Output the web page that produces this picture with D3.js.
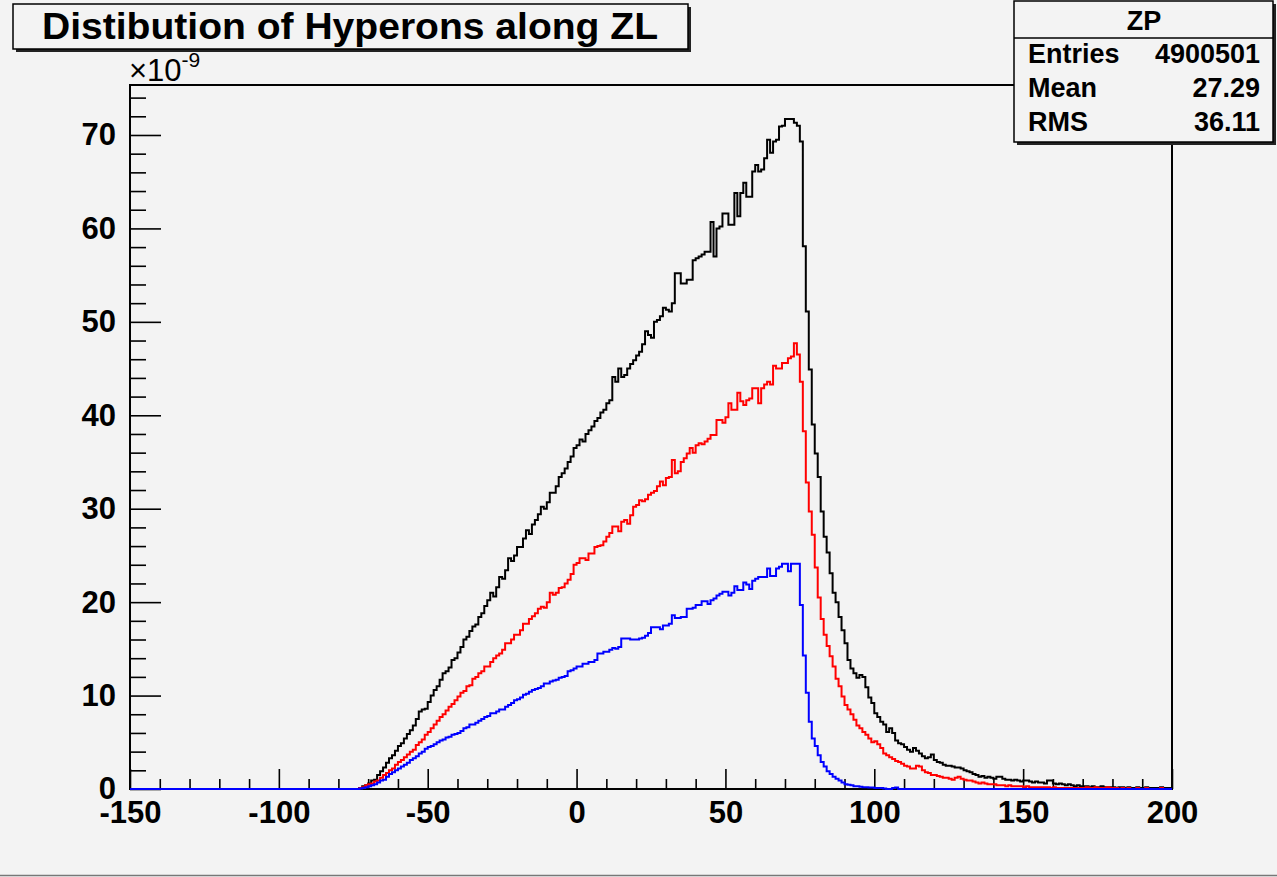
<!DOCTYPE html>
<html>
<head>
<meta charset="utf-8">
<script src="https://cdn.jsdelivr.net/npm/d3@7"></script>
<style>
  html, body { margin: 0; padding: 0; background: #f3f3f3; }
  svg { display: block; }
  text { font-family: "Liberation Sans", Arial, Helvetica, sans-serif; }
</style>
</head>
<body>
<svg width="1277" height="877"></svg>
<script>
// histogram bins are 1 unit wide, first filled bin starts at firstBin
var firstBin = -73;

// black: all hyperons
var allHyp = [
  0.1, 0.3, 0.4, 0.6, 0.9, 1.0, 1.5, 1.9, 2.3, 2.8,
  3.3, 3.6, 4.1, 4.6, 4.9, 5.4, 5.9, 6.3, 6.8, 7.5,
  8.3, 8.5, 8.6, 9.3, 10.0, 10.6, 11.0, 11.7, 12.4, 12.6,
  13.0, 13.8, 14.0, 14.6, 15.2, 16.0, 16.3, 16.9, 17.4, 17.6,
  18.4, 18.8, 19.6, 20.2, 21.0, 20.6, 21.6, 22.7, 22.5, 23.4,
  24.7, 24.4, 25.0, 25.9, 25.9, 26.8, 27.7, 27.3, 28.3, 28.8,
  29.4, 30.2, 30.0, 30.7, 31.7, 31.7, 32.4, 33.4, 33.8, 34.3,
  35.0, 35.6, 36.5, 36.8, 37.4, 37.2, 38.0, 38.4, 38.8, 39.4,
  39.7, 40.3, 40.6, 41.3, 41.6, 44.1, 43.6, 45.0, 44.1, 44.3,
  45.0, 45.5, 45.9, 46.4, 46.8, 47.6, 49.0, 48.6, 48.3, 50.0,
  50.2, 50.6, 51.5, 51.3, 51.1, 52.0, 55.2, 55.2, 54.1, 54.1,
  54.5, 54.5, 56.6, 56.8, 57.0, 57.2, 57.5, 57.5, 60.7, 57.0,
  60.0, 60.2, 61.6, 61.6, 60.4, 60.4, 63.8, 61.3, 63.8, 64.9,
  63.4, 63.4, 66.1, 66.8, 66.1, 66.3, 67.5, 69.5, 68.1, 69.3,
  69.5, 70.9, 71.0, 71.7, 71.7, 71.7, 71.3, 71.0, 69.3, 58.1,
  51.1, 44.9, 39.0, 35.9, 33.4, 29.7, 27.0, 25.3, 23.1, 21.0,
  20.0, 18.4, 17.0, 15.6, 13.8, 12.9, 12.4, 11.9, 12.2, 12.0,
  10.9, 9.8, 9.2, 8.1, 7.7, 7.2, 6.9, 6.1, 6.5, 6.0,
  5.2, 4.9, 4.8, 4.5, 4.2, 4.0, 4.4, 4.1, 3.8, 3.5,
  3.3, 3.4, 3.7, 3.1, 2.9, 2.8, 2.6, 2.5, 2.5, 2.4,
  2.3, 2.3, 2.2, 2.0, 1.9, 1.8, 1.6, 1.5, 1.3, 1.4,
  1.2, 1.3, 1.2, 1.1, 1.3, 1.3, 1.1, 1.0, 1.0, 0.9,
  1.0, 0.9, 0.8, 0.9, 0.9, 0.8, 0.7, 0.8, 0.7, 0.7,
  0.6, 0.9, 0.9, 0.6, 0.5, 0.6, 0.5, 0.4, 0.5, 0.4,
  0.3, 0.4, 0.3, 0.3, 0.3, 0.2, 0.3, 0.2, 0.2, 0.3,
  0.2, 0.2, 0.2, 0.2, 0.1, 0.2, 0.2, 0.1, 0.2, 0.1,
  0.1, 0.2, 0.1, 0.1, 0.2, 0.1, 0.1, 0.1, 0.1, 0.2,
  0.1, 0.1, 0.1
];

// red
var redHyp = [
  0.1, 0.2, 0.4, 0.5, 0.6, 0.8, 0.9, 1.2, 1.5, 1.7,
  2.0, 2.2, 2.6, 2.9, 3.1, 3.4, 3.7, 4.0, 4.2, 4.7,
  5.0, 5.3, 5.8, 6.1, 6.5, 6.9, 7.3, 7.7, 8.0, 8.4,
  8.8, 9.1, 9.5, 9.9, 10.3, 10.5, 11.0, 11.1, 11.8, 12.0,
  12.4, 12.6, 13.1, 13.1, 13.6, 14.0, 14.3, 14.5, 14.9, 15.6,
  15.6, 16.0, 16.5, 16.5, 17.0, 17.7, 17.7, 18.2, 18.5, 18.8,
  19.3, 19.5, 19.4, 20.0, 21.0, 20.8, 21.0, 21.5, 21.6, 22.0,
  22.4, 23.0, 24.0, 24.2, 24.7, 24.7, 24.5, 25.2, 25.2, 25.9,
  26.0, 26.1, 26.5, 27.0, 27.4, 28.1, 28.1, 27.6, 28.6, 28.8,
  28.4, 29.3, 30.2, 30.4, 30.9, 30.8, 31.0, 31.5, 31.7, 31.9,
  32.4, 32.9, 32.5, 33.3, 33.4, 35.2, 33.8, 34.0, 35.0, 35.4,
  35.9, 36.5, 36.0, 36.8, 37.0, 36.9, 37.2, 37.5, 37.9, 37.9,
  39.5, 39.5, 39.2, 39.8, 41.3, 40.6, 40.6, 42.4, 41.5, 41.1,
  41.6, 41.8, 42.9, 42.9, 41.3, 42.9, 43.3, 43.6, 43.3, 45.3,
  45.0, 45.0, 45.6, 45.6, 46.1, 46.3, 47.7, 46.5, 43.6, 38.3,
  32.8, 29.7, 27.2, 23.7, 20.5, 18.2, 16.5, 15.3, 14.2, 13.1,
  11.8, 11.0, 9.9, 9.0, 8.5, 8.0, 7.4, 6.8, 6.5, 6.1,
  5.8, 5.4, 5.0, 5.1, 4.8, 4.4, 3.8, 3.6, 3.4, 3.2,
  3.0, 2.9, 2.7, 2.5, 2.4, 2.2, 2.2, 2.5, 2.4, 2.0,
  1.8, 1.7, 1.5, 1.5, 1.4, 1.3, 1.2, 1.2, 1.1, 1.0,
  1.2, 1.3, 1.1, 1.0, 0.9, 0.9, 0.8, 0.7, 0.6, 0.7,
  0.6, 0.5, 0.5, 0.5, 0.4, 0.4, 0.4, 0.3, 0.4, 0.3,
  0.3, 0.3, 0.3, 0.2, 0.3, 0.2, 0.2, 0.2, 0.2, 0.2,
  0.2, 0.2, 0.1, 0.2, 0.1, 0.1, 0.1, 0.1, 0.1, 0.1,
  0.1, 0.1, 0.1, 0.1, 0.2, 0.1, 0.1, 0.2, 0.1, 0.1,
  0.1, 0.2, 0.1, 0.1, 0.1, 0.0, 0.1, 0.0, 0.1, 0.0,
  0.0, 0.1, 0.0, 0.0, 0.1, 0.0, 0.0, 0.0, 0.0, 0.1,
  0.0, 0.0, 0.0
];

// blue
var blueHyp = [
  0.05, 0.1, 0.2, 0.3, 0.4, 0.5, 0.7, 0.9, 1.0, 1.3,
  1.6, 1.8, 2.0, 2.2, 2.4, 2.6, 2.8, 3.1, 3.3, 3.5,
  3.8, 4.0, 4.3, 4.5, 4.6, 4.8, 5.0, 5.2, 5.3, 5.5,
  5.6, 5.8, 5.9, 6.0, 6.2, 6.5, 6.6, 6.9, 6.9, 7.1,
  7.3, 7.5, 7.7, 7.8, 8.1, 8.1, 8.3, 8.5, 8.5, 8.8,
  9.0, 9.2, 9.5, 9.6, 9.8, 10.1, 10.2, 10.4, 10.6, 10.7,
  10.8, 11.0, 11.3, 11.3, 11.5, 11.6, 11.7, 11.9, 12.0, 12.1,
  12.6, 12.7, 12.9, 13.1, 13.1, 13.4, 13.4, 13.6, 13.6, 13.8,
  14.5, 14.5, 14.7, 14.7, 14.9, 15.1, 15.0, 15.2, 16.1, 16.1,
  16.1, 16.0, 16.0, 16.0, 16.1, 16.2, 16.4, 16.7, 17.3, 17.3,
  17.3, 17.1, 17.5, 17.5, 17.7, 18.6, 18.3, 18.3, 18.4, 18.4,
  19.3, 19.3, 19.4, 19.7, 19.7, 20.1, 20.1, 19.8, 20.2, 20.4,
  20.7, 20.9, 21.1, 21.1, 20.7, 21.0, 21.7, 21.3, 21.3, 22.1,
  21.9, 21.4, 22.3, 22.5, 22.7, 22.7, 22.7, 23.6, 22.8, 22.8,
  23.6, 23.8, 24.1, 24.1, 23.3, 24.1, 24.1, 24.1, 19.7, 14.3,
  10.3, 7.2, 5.4, 4.6, 3.6, 2.9, 2.4, 1.9, 1.6, 1.3,
  1.1, 0.9, 0.7, 0.5, 0.45, 0.4, 0.3, 0.3, 0.25, 0.2,
  0.2, 0.15, 0.15, 0.1, 0.1, 0.1, 0.05, 0.0, 0.0, 0.1,
  0.15, 0.0
];

var xTicksMajor = [-150, -100, -50, 0, 50, 100, 150, 200];
var yTicksMajor = [0, 10, 20, 30, 40, 50, 60, 70];
var titleText = 'Distibution of Hyperons along ZL';
var statsName = 'ZP';
var statsLabels = ['Entries', 'Mean', 'RMS'];
var statsValues = ['4900501', '27.29', '36.11'];

var svg = d3.select('svg');
var font = '"Liberation Sans", Arial, Helvetica, sans-serif';

// canvas bottom edge
svg.append('line').attr('x1', 0).attr('x2', 1277).attr('y1', 875.5).attr('y2', 875.5)
  .attr('stroke', '#777').attr('stroke-width', 1.5);

var x = d3.scaleLinear().domain([-150, 200]).range([130, 1172]);
var y = d3.scaleLinear().domain([0, 75.35]).range([789, 85]);

// minor ticks
var xMinor = d3.range(-150, 201, 10).filter(d => xTicksMajor.indexOf(d) < 0);
var yMinor = d3.range(0, 75, 2).filter(d => d % 10 !== 0);

// plain hyphen minus like the original, not the unicode minus of d3.format
var plain = d => String(d);

var gx = svg.append('g').attr('transform', 'translate(0,789)');
gx.call(d3.axisBottom(x).tickValues(xMinor).tickSize(-10).tickFormat(''));
var gx2 = svg.append('g').attr('transform', 'translate(0,789)');
gx2.call(d3.axisBottom(x).tickValues(xTicksMajor).tickSize(-20).tickPadding(12)
  .tickFormat(plain));

var gy = svg.append('g').attr('transform', 'translate(130,0)');
gy.call(d3.axisLeft(y).tickValues(yMinor).tickSize(-16).tickFormat(''));
var gy2 = svg.append('g').attr('transform', 'translate(130,0)');
gy2.call(d3.axisLeft(y).tickValues(yTicksMajor).tickSize(-31).tickPadding(14)
  .tickFormat(plain));

svg.selectAll('.domain').remove();
svg.selectAll('.tick line').attr('stroke', '#000').attr('stroke-width', 1.6);
svg.selectAll('.tick text')
  .attr('fill', '#000')
  .style('font-family', font)
  .style('font-weight', 'bold')
  .style('font-size', '31px');

// frame
svg.append('rect')
  .attr('x', 130).attr('y', 85).attr('width', 1042).attr('height', 704)
  .attr('fill', 'none').attr('stroke', '#000').attr('stroke-width', 2);

// histograms as steps
function histPoints(vals) {
  var pts = d3.range(-150, 200).map(function(k) {
    var i = k - firstBin;
    var v = (i >= 0 && i < vals.length) ? vals[i] : 0;
    return [k, v];
  });
  pts.push([200, pts[pts.length - 1][1]]);
  return pts;
}

var step = d3.line()
  .x(d => x(d[0]))
  .y(d => y(d[1]))
  .curve(d3.curveStepAfter);

var series = [
  {vals: allHyp, color: '#000000'},
  {vals: redHyp, color: '#ff0000'},
  {vals: blueHyp, color: '#0000ff'}
];

svg.selectAll('path.hist')
  .data(series)
  .enter().append('path')
  .attr('class', 'hist')
  .attr('d', d => step(histPoints(d.vals)))
  .attr('fill', 'none')
  .attr('stroke', d => d.color)
  .attr('stroke-width', 2);

// exponent label
var expo = svg.append('text')
  .attr('x', 129).attr('y', 81)
  .style('font-family', font)
  .style('font-size', '31px');
expo.append('tspan').text('\u00d710');
expo.append('tspan').attr('dy', -14).style('font-size', '21px').text('-9');

// title box with shadow
svg.append('rect').attr('x', 16).attr('y', 7).attr('width', 675).attr('height', 45)
  .attr('fill', '#222');
svg.append('rect').attr('x', 13).attr('y', 4).attr('width', 675).attr('height', 45)
  .attr('fill', '#f3f3f3').attr('stroke', '#000').attr('stroke-width', 1.5);
svg.append('text')
  .attr('x', 350).attr('y', 39)
  .attr('text-anchor', 'middle')
  .attr('textLength', 616).attr('lengthAdjust', 'spacingAndGlyphs')
  .style('font-family', font).style('font-weight', 'bold').style('font-size', '36px')
  .text(titleText);

// stats box with shadow
svg.append('rect').attr('x', 1017).attr('y', 4).attr('width', 259).attr('height', 141)
  .attr('fill', '#222');
svg.append('rect').attr('x', 1014).attr('y', 1).attr('width', 259).attr('height', 141)
  .attr('fill', '#f3f3f3').attr('stroke', '#000').attr('stroke-width', 1.5);
svg.append('line').attr('x1', 1014).attr('x2', 1273).attr('y1', 38).attr('y2', 38)
  .attr('stroke', '#000').attr('stroke-width', 1.5);
svg.append('text')
  .attr('x', 1144).attr('y', 30).attr('text-anchor', 'middle')
  .style('font-family', font).style('font-weight', 'bold').style('font-size', '27px')
  .text(statsName);

var rowsY = [63, 97, 131];
svg.selectAll('text.slabel')
  .data(statsLabels)
  .enter().append('text')
  .attr('class', 'slabel')
  .attr('x', 1028).attr('y', (d, i) => rowsY[i])
  .style('font-family', font).style('font-weight', 'bold').style('font-size', '27px')
  .text(d => d);
svg.selectAll('text.svalue')
  .data(statsValues)
  .enter().append('text')
  .attr('class', 'svalue')
  .attr('x', 1260).attr('y', (d, i) => rowsY[i]).attr('text-anchor', 'end')
  .style('font-family', font).style('font-weight', 'bold').style('font-size', '27px')
  .text(d => d);
</script>
</body>
</html>
